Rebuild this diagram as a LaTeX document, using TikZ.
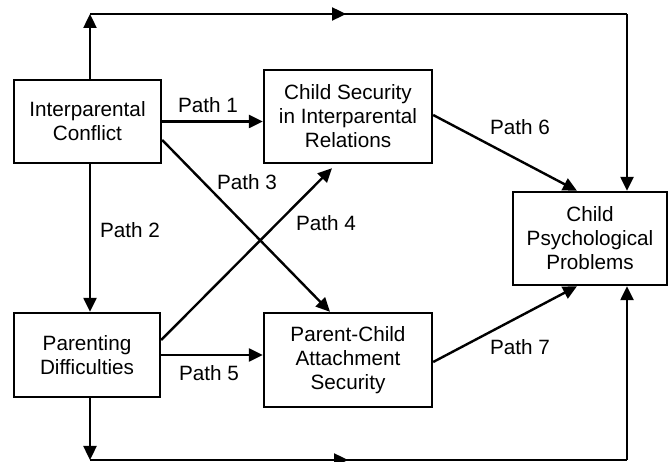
\documentclass[tikz,border=0pt]{standalone}
\usepackage{fontspec}
\setmainfont{Liberation Sans}
\usetikzlibrary{arrows.meta}
\begin{document}
\begin{tikzpicture}[x=1pt,y=-1pt,
  every node/.style={font=\fontsize{20.7}{24}\selectfont},
  box/.style={draw, line width=2.4pt, align=center, inner sep=0pt},
  lbl/.style={inner sep=0pt},
  link/.style={line width=2.4pt},
  arr/.style={link, -{Triangle[length=14pt,width=13pt]}}]
\useasboundingbox (0,0) rectangle (670,462);

% variables
\node[box, minimum width=147pt, minimum height=83pt] (ic)  at (87.5,121.5) {Interparental\\Conflict};
\node[box, minimum width=168pt, minimum height=93pt] (cs)  at (348,116.5) {Child Security\\in Interparental\\Relations};
\node[box, minimum width=154pt, minimum height=93pt] (cpp) at (590,238.5) {Child\\Psychological\\Problems};
\node[box, minimum width=146pt, minimum height=84pt] (pd)  at (87,355) {Parenting\\Difficulties};
\node[box, minimum width=168pt, minimum height=94pt] (pca) at (348,360) {Parent-Child\\Attachment\\Security};

% routing points of the two outer direct paths
\coordinate (tl) at (90,14);
\coordinate (tm) at (346,14);
\coordinate (tr) at (627,14);
\coordinate (bl) at (90,460);
\coordinate (bm) at (348,460);
\coordinate (br) at (627,460);

% direct effects on child problems
\draw[arr] (ic.north -| tl) -- (tl);
\draw[link] (tl) -- (tr);
\draw[arr] (tl) -- (tm);
\draw[arr] (tr) -- (cpp.north -| tr);
\draw[arr] (pd.south -| bl) -- (bl);
\draw[link] (bl) -- (br);
\draw[arr] (bl) -- (bm);
\draw[arr] (br) -- (cpp.south -| br);

% mediated paths
\draw[arr] (ic.east) -- (ic.east -| cs.west);
\draw[arr] (ic.south -| tl) -- (pd.north -| tl);
\draw[arr] ([yshift=-18.5pt]ic.east) -- ([xshift=-18pt]pca.north);
\draw[arr] ([yshift=15pt]pd.east) -- ([xshift=-16pt,yshift=-4pt]cs.south);
\draw[arr] (pd.east) -- (pd.east -| pca.west);
\draw[arr] ([yshift=1.5pt]cs.east) -- ([xshift=-13pt]cpp.north);
\draw[arr] ([yshift=-2pt]pca.east) -- ([xshift=-13pt]cpp.south);

% path labels
\node[lbl] (p1) at (208,105) {Path 1};
\node[lbl] (p2) at (130,230) {Path 2};
\node[lbl] (p3) at (247,182) {Path 3};
\node[lbl] (p4) at (326,223) {Path 4};
\node[lbl] (p5) at (209,373) {Path 5};
\node[lbl] (p6) at (520,127) {Path 6};
\node[lbl] (p7) at (520,347) {Path 7};
\end{tikzpicture}
\end{document}
